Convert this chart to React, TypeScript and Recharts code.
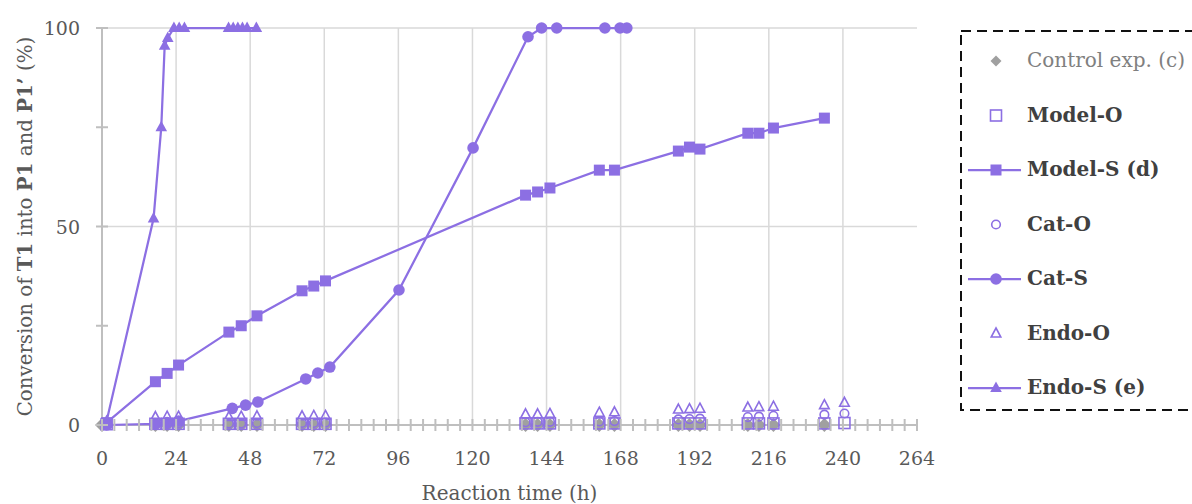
import React from 'react';
import { ScatterChart, Scatter, XAxis, YAxis, CartesianGrid, Label } from 'recharts';

const PURPLE = '#8C6FE3';
const DIAMOND_GRAY = '#A0A0A0';
const AXIS_GRAY = '#BFBFBF';
const GRID_GRAY = '#D9D9D9';
const TEXT_GRAY = '#595959';
const FONT = '"DejaVu Serif", serif';

// axis ticks
const xTicks = [0, 4, 8, 12, 16, 20, 24, 28, 32, 36, 40, 44, 48, 52, 56, 60, 64, 68, 72, 76, 80, 84, 88, 92, 96, 100, 104, 108, 112, 116, 120, 124, 128, 132, 136, 140, 144, 148, 152, 156, 160, 164, 168, 172, 176, 180, 184, 188, 192, 196, 200, 204, 208, 212, 216, 220, 224, 228, 232, 236, 240, 244, 248, 252, 256, 260, 264];
const xLabelTicks = [0, 24, 48, 72, 96, 120, 144, 168, 192, 216, 240, 264];
const yTicks = [0, 25, 50, 75, 100];
const yLabelTicks = [0, 50, 100];
const gridX = [24, 48, 72, 96, 120, 144, 168, 192, 216, 240];
const gridY = [50, 100];

// Control exp. (c)
const controlTime = [0, 17.3, 21.1, 24.8, 41.1, 45.1, 50.2, 64.8, 68.6, 72.4, 137.2, 141.1, 145.1, 161.1, 166.0, 186.7, 190.3, 193.7, 209.2, 212.8, 217.5, 234.0];
const controlConv = [0, 0, 0, 0, 0, 0, 0, 0, 0, 0, 0, 0, 0, 0, 0, 0, 0, 0, 0, 0, 0, 0];

// O-series sampling times
const oTime = [1.5, 17.3, 21.1, 24.8, 41.1, 45.1, 50.2, 64.8, 68.6, 72.4, 137.2, 141.1, 145.1, 161.1, 166.0, 186.7, 190.3, 193.7, 209.2, 212.8, 217.5, 234.0, 240.5];
const modelOConv = [0.2, 0.3, 0.3, 0.3, 0.3, 0.3, 0.3, 0.3, 0.3, 0.3, 0.4, 0.4, 0.4, 0.4, 0.4, 0.4, 0.4, 0.4, 0.4, 0.4, 0.4, 0.4, 0.5];
const catOConv = [0.2, 0.3, 0.3, 0.4, 0.4, 0.4, 0.5, 0.5, 0.5, 0.6, 0.7, 0.8, 0.8, 0.9, 1.0, 1.4, 1.5, 1.6, 2.0, 2.1, 2.3, 2.6, 2.9];
const endoOConv = [0.5, 2.0, 2.1, 2.1, 2.0, 2.1, 2.2, 2.2, 2.3, 2.3, 2.7, 2.7, 2.8, 3.1, 3.2, 3.9, 4.0, 4.1, 4.4, 4.5, 4.6, 5.0, 5.6];

// Model-S (d)
const modelSTime = [1.5, 17.3, 21.1, 24.8, 41.1, 45.1, 50.2, 64.8, 68.6, 72.4, 137.2, 141.1, 145.1, 161.1, 166.0, 186.7, 190.3, 193.7, 209.2, 212.8, 217.5, 234.0];
const modelSConv = [0.6, 10.9, 13.0, 15.1, 23.4, 25.0, 27.5, 33.8, 35.0, 36.3, 57.9, 58.7, 59.7, 64.2, 64.2, 69.0, 70.0, 69.5, 73.5, 73.5, 74.8, 77.3];

// Cat-S
const catSTime = [1.5, 17.3, 21.1, 24.8, 42.2, 46.5, 50.5, 66.0, 69.9, 73.8, 96.2, 120.2, 138.0, 142.4, 147.3, 162.9, 167.8, 170.0];
const catSConv = [0.0, 0.3, 0.6, 1.0, 4.2, 5.0, 5.8, 11.6, 13.1, 14.6, 34.0, 69.8, 97.8, 100, 100, 100, 100, 100];

// Endo-S (e)
const endoSTime = [1.5, 16.7, 19.2, 20.3, 21.3, 23.3, 25.0, 26.7, 41.0, 42.5, 44.0, 45.5, 47.0, 50.0];
const endoSConv = [1.0, 52.0, 75.0, 95.5, 97.5, 100, 100, 100, 100, 100, 100, 100, 100, 100];

const zip = (t: number[], v: number[]) => t.map((x, i) => ({ x, y: v[i] }));

// marker shapes
const diamond = (p: any) => (
  <path d={`M${p.cx},${p.cy - 7}L${p.cx + 7},${p.cy}L${p.cx},${p.cy + 7}L${p.cx - 7},${p.cy}Z`} fill={DIAMOND_GRAY} />
);
const smallDiamond = (p: any) => (
  <path d={`M${p.cx},${p.cy - 5.5}L${p.cx + 5.5},${p.cy}L${p.cx},${p.cy + 5.5}L${p.cx - 5.5},${p.cy}Z`} fill={DIAMOND_GRAY} />
);
const openSquare = (p: any) => (
  <rect x={p.cx - 5.5} y={p.cy - 5.5} width={11} height={11} fill="none" stroke={PURPLE} strokeWidth={1.6} />
);
const filledSquare = (p: any) => (
  <rect x={p.cx - 5.5} y={p.cy - 5.5} width={11} height={11} fill={PURPLE} />
);
const openCircle = (p: any) => (
  <circle cx={p.cx} cy={p.cy} r={4.3} fill="none" stroke={PURPLE} strokeWidth={1.6} />
);
const filledCircle = (p: any) => <circle cx={p.cx} cy={p.cy} r={5.8} fill={PURPLE} />;
const openTriangle = (p: any) => (
  <path d={`M${p.cx},${p.cy - 5.5}L${p.cx + 4.8},${p.cy + 3.5}L${p.cx - 4.8},${p.cy + 3.5}Z`} fill="none" stroke={PURPLE} strokeWidth={1.6} />
);
const filledTriangle = (p: any) => (
  <path d={`M${p.cx},${p.cy - 6.5}L${p.cx + 5.8},${p.cy + 4}L${p.cx - 5.8},${p.cy + 4}Z`} fill={PURPLE} />
);

const XTick = (props: any) => {
  const { x, y, payload } = props;
  const v = payload.value;
  return (
    <g>
      <line x1={x} x2={x} y1={y - 6} y2={y + 6} stroke={AXIS_GRAY} strokeWidth={2} />
      {xLabelTicks.includes(v) && (
        <text x={x} y={y + 40} textAnchor="middle" fill={TEXT_GRAY} fontSize={19} fontFamily={FONT}>
          {v}
        </text>
      )}
    </g>
  );
};

const YTick = (props: any) => {
  const { x, y, payload } = props;
  const v = payload.value;
  return (
    <g>
      <line x1={x - 6} x2={x + 6} y1={y} y2={y} stroke={AXIS_GRAY} strokeWidth={2} />
      {yLabelTicks.includes(v) && (
        <text x={x - 22} y={y + 7} textAnchor="end" fill={TEXT_GRAY} fontSize={19} fontFamily={FONT}>
          {v}
        </text>
      )}
    </g>
  );
};

const XLabel = (props: any) => {
  const vb = props.viewBox;
  return (
    <text x={vb.x + vb.width / 2} y={vb.y + 75} textAnchor="middle" fill={TEXT_GRAY} fontSize={20} fontFamily={FONT}>
      Reaction time (h)
    </text>
  );
};

const YLabel = (props: any) => {
  const vb = props.viewBox;
  const cx = vb.x + 32;
  const cy = vb.y + vb.height / 2;
  return (
    <text x={cx} y={cy} transform={`rotate(-90, ${cx}, ${cy})`} textAnchor="middle" fill={TEXT_GRAY} fontSize={19.8} fontFamily={FONT} style={{ whiteSpace: 'pre' }}>
      <tspan>Conversion of </tspan>
      <tspan fontWeight="bold">T1</tspan>
      <tspan> into </tspan>
      <tspan fontWeight="bold">P1</tspan>
      <tspan> and </tspan>
      <tspan fontWeight="bold">P1’</tspan>
      <tspan> (%)</tspan>
    </text>
  );
};

const legendItems = [
  { name: 'Control exp. (c)', shape: smallDiamond, line: false, muted: true },
  { name: 'Model-O', shape: openSquare, line: false, muted: false },
  { name: 'Model-S (d)', shape: filledSquare, line: true, muted: false },
  { name: 'Cat-O', shape: openCircle, line: false, muted: false },
  { name: 'Cat-S', shape: filledCircle, line: true, muted: false },
  { name: 'Endo-O', shape: openTriangle, line: false, muted: false },
  { name: 'Endo-S (e)', shape: filledTriangle, line: true, muted: false },
];

const LegendBox = () => (
  <svg width={1192} height={504} style={{ position: 'absolute', left: 0, top: 0, pointerEvents: 'none' }}>
    <rect x={961} y={31} width={260} height={379} fill="none" stroke="#111" strokeWidth={2} strokeDasharray="10 6" />
    {legendItems.map((it, i) => {
      const cy = 60 + i * 54.5;
      return (
        <g key={it.name}>
          {it.line && <line x1={968} x2={1021} y1={cy + 1} y2={cy + 1} stroke={PURPLE} strokeWidth={2.25} />}
          {it.shape({ cx: 996, cy: cy + 1 })}
          <text x={1027} y={cy + 7} fontSize={20} fontFamily={FONT} fill={it.muted ? '#808080' : '#404040'} fontWeight={it.muted ? 'normal' : 'bold'}>
            {it.name}
          </text>
        </g>
      );
    })}
  </svg>
);

export default function App() {
  return (
    <div style={{ position: 'absolute', left: 0, top: 0, width: 1192, height: 504, background: '#fff' }}>
      <ScatterChart width={1192} height={504} margin={{ top: 28, right: 275, bottom: 0, left: 0 }}>
        <CartesianGrid verticalValues={gridX} horizontalValues={gridY} stroke={GRID_GRAY} strokeWidth={1.5} />
        <XAxis
          type="number"
          dataKey="x"
          domain={[0, 264]}
          ticks={xTicks}
          interval={0}
          height={79}
          tickSize={0}
          tickMargin={0}
          tickLine={false}
          axisLine={{ stroke: AXIS_GRAY, strokeWidth: 2 }}
          tick={<XTick />}
        >
          <Label content={<XLabel />} />
        </XAxis>
        <YAxis
          type="number"
          dataKey="y"
          domain={[0, 100]}
          ticks={yTicks}
          interval={0}
          width={102}
          tickSize={0}
          tickMargin={0}
          tickLine={false}
          axisLine={{ stroke: AXIS_GRAY, strokeWidth: 2 }}
          tick={<YTick />}
        >
          <Label content={<YLabel />} />
        </YAxis>
        <Scatter name="Control exp. (c)" data={zip(controlTime, controlConv)} shape={diamond} isAnimationActive={false} />
        <Scatter name="Model-O" data={zip(oTime, modelOConv)} shape={openSquare} isAnimationActive={false} />
        <Scatter name="Model-S (d)" data={zip(modelSTime, modelSConv)} shape={filledSquare} line={{ stroke: PURPLE, strokeWidth: 2.25 }} lineJointType="linear" isAnimationActive={false} />
        <Scatter name="Cat-O" data={zip(oTime, catOConv)} shape={openCircle} isAnimationActive={false} />
        <Scatter name="Cat-S" data={zip(catSTime, catSConv)} shape={filledCircle} line={{ stroke: PURPLE, strokeWidth: 2.25 }} lineJointType="linear" isAnimationActive={false} />
        <Scatter name="Endo-O" data={zip(oTime, endoOConv)} shape={openTriangle} isAnimationActive={false} />
        <Scatter name="Endo-S (e)" data={zip(endoSTime, endoSConv)} shape={filledTriangle} line={{ stroke: PURPLE, strokeWidth: 2.25 }} lineJointType="linear" isAnimationActive={false} />
      </ScatterChart>
      <LegendBox />
    </div>
  );
}
